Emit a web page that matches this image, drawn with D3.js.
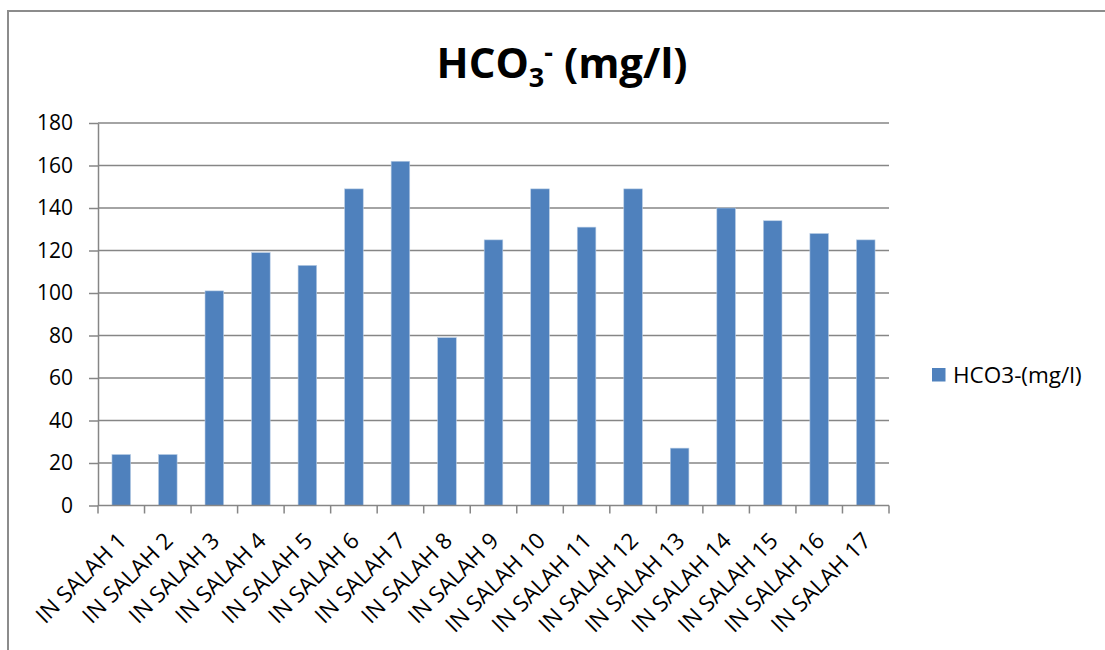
<!DOCTYPE html>
<html>
<head>
<meta charset="utf-8">
<script src="https://cdn.jsdelivr.net/npm/d3@7"></script>
<style>
  html, body { margin: 0; padding: 0; background: #fff; }
  svg { display: block; }
  text { font-family: "Open Sans", Lato, sans-serif; fill: #000; }
</style>
</head>
<body>
<svg id="chart" width="1105" height="650"></svg>
<script>
const categories = ["IN SALAH 1","IN SALAH 2","IN SALAH 3","IN SALAH 4","IN SALAH 5","IN SALAH 6","IN SALAH 7","IN SALAH 8","IN SALAH 9","IN SALAH 10","IN SALAH 11","IN SALAH 12","IN SALAH 13","IN SALAH 14","IN SALAH 15","IN SALAH 16","IN SALAH 17"];
const values = [24, 24, 101, 119, 113, 149, 162, 79, 125, 149, 131, 149, 27, 140, 134, 128, 125];
const yTicks = [0, 20, 40, 60, 80, 100, 120, 140, 160, 180];
const seriesName = "HCO3-(mg/l)";

(function () {
const svg = d3.select("#chart");
const pLeft = 98, pRight = 889, pTop = 123, pBottom = 505.5;
const FONT = "'Open Sans', Lato, sans-serif";

// outer chart border
svg.append("path")
  .attr("d", `M8,652 L8,11 L1107,11`)
  .attr("fill", "none").attr("stroke", "#8c8c8c").attr("stroke-width", 2);

const x = d3.scaleBand().domain(categories).range([pLeft, pRight]).paddingInner(0.6).paddingOuter(0.3);
const y = d3.scaleLinear().domain([0, 180]).range([pBottom, pTop]);

// gridlines
svg.append("g")
  .selectAll("line").data(yTicks.slice(1)).join("line")
  .attr("x1", pLeft).attr("x2", pRight)
  .attr("y1", d => y(d)).attr("y2", d => y(d))
  .attr("stroke", "#868686").attr("stroke-width", 1.5);

// y axis
const yAxis = svg.append("g").attr("transform", `translate(${pLeft},0)`)
  .call(d3.axisLeft(y).tickValues(yTicks).tickSize(9).tickPadding(16).tickSizeOuter(0));
yAxis.select(".domain").attr("stroke", "#868686").attr("stroke-width", 1.5);
yAxis.selectAll(".tick line").attr("stroke", "#868686").attr("stroke-width", 1.5);
yAxis.selectAll(".tick text").attr("font-size", 21).attr("font-family", FONT).attr("fill", "#000");

// bars
svg.append("g").selectAll("rect").data(values).join("rect")
  .attr("x", (d, i) => x(categories[i]))
  .attr("y", d => y(d))
  .attr("width", x.bandwidth())
  .attr("height", d => y(0) - y(d))
  .attr("fill", "#4f81bd")
  .attr("stroke", "#b9cde5").attr("stroke-width", 0.6);

// x axis with boundary ticks
const xb = d3.scalePoint().domain(d3.range(categories.length + 1)).range([pLeft, pRight]);
const xAxisG = svg.append("g");
xAxisG.append("line").attr("x1", pLeft).attr("x2", pRight).attr("y1", pBottom).attr("y2", pBottom)
  .attr("stroke", "#868686").attr("stroke-width", 1.5);
xAxisG.selectAll("line.tk").data(xb.domain()).join("line").attr("class", "tk")
  .attr("x1", d => xb(d)).attr("x2", d => xb(d))
  .attr("y1", pBottom).attr("y2", pBottom + 8)
  .attr("stroke", "#868686").attr("stroke-width", 1.5);

// x labels rotated
const xc = d => x(d) + x.bandwidth() / 2;
xAxisG.selectAll("text").data(categories).join("text")
  .attr("transform", d => `translate(${xc(d) + 1},${pBottom + 31}) rotate(-45)`)
  .attr("text-anchor", "end")
  .attr("dy", "0.35em")
  .attr("font-size", 22.5)
  .text(d => d);

// title
const title = svg.append("text")
  .attr("x", 562).attr("y", 78)
  .attr("text-anchor", "middle")
  .attr("font-size", 42).attr("font-weight", "bold");
title.append("tspan").text("HCO");
title.append("tspan").attr("font-size", 27).attr("dy", 9).text("3");
title.append("tspan").attr("font-size", 27).attr("dy", -25).text("-");
title.append("tspan").attr("dy", 16).text(" (mg/l)");

// legend
const lg = svg.append("g").attr("transform", "translate(932,368)");
lg.append("rect").attr("width", 13.5).attr("height", 13.5).attr("fill", "#4f81bd");
lg.append("text").attr("x", 21).attr("y", 7).attr("dy", "0.35em").attr("font-size", 22.5).text(seriesName);
})();
</script>
</body>
</html>
